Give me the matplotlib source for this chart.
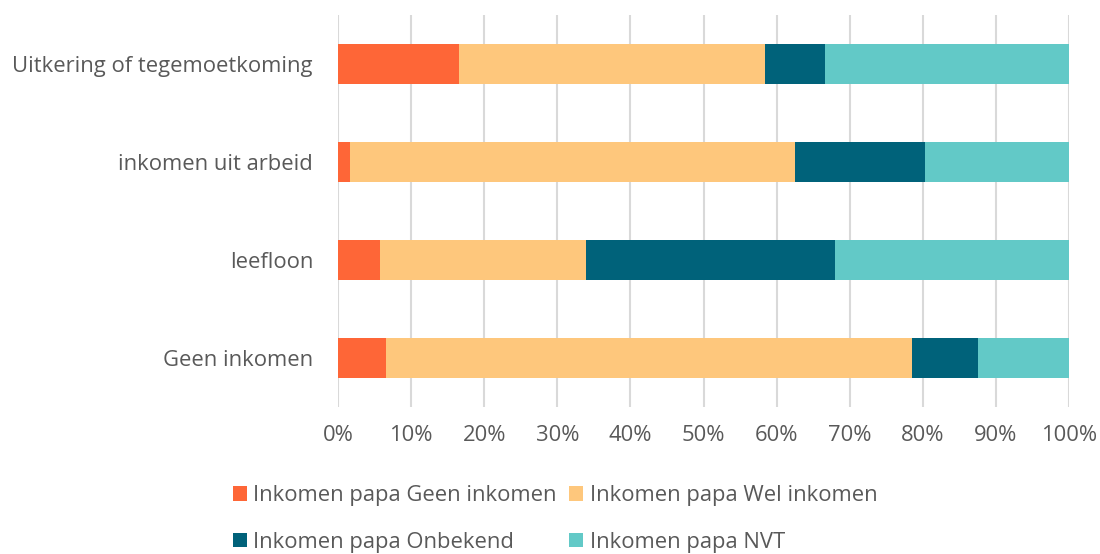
import matplotlib
matplotlib.use("Agg")
import matplotlib.pyplot as plt
from matplotlib.ticker import FuncFormatter

plt.rcParams['font.family'] = ['Open Sans', 'DejaVu Sans']

categories = ["Uitkering of tegemoetkoming", "inkomen uit arbeid", "leefloon", "Geen inkomen"]
series_names = ["Inkomen papa Geen inkomen", "Inkomen papa Wel inkomen",
                "Inkomen papa Onbekend", "Inkomen papa NVT"]
geen = [16.6, 1.6, 5.8, 6.6]
wel = [41.8, 60.9, 28.1, 71.9]
onbekend = [8.2, 17.8, 34.1, 9.1]
nvt = [33.4, 19.7, 32.0, 12.4]
colors = ["#FE6637", "#FEC77C", "#00627A", "#62C9C7"]

FS = 15.8
fig = plt.figure(figsize=(11, 5.54), dpi=100)
ax = fig.add_axes([338/1100, 1-407/554, (1069-338)/1100, (407-15)/554])

ypos = list(range(len(categories)))
left = [0.0]*len(categories)
for name, vals, col in zip(series_names, [geen, wel, onbekend, nvt], colors):
    ax.barh(ypos, vals, left=left, height=0.4, color=col, label=name, zorder=3)
    left = [l+v for l, v in zip(left, vals)]

ax.set_xlim(0, 100)
ax.set_ylim(3.5, -0.5)
ax.set_xticks(range(0, 101, 10))
ax.xaxis.set_major_formatter(FuncFormatter(lambda v, p: f"{int(v)}%"))
ax.set_yticks(ypos)
ax.set_yticklabels(categories)
ax.grid(axis='x', color='#D9D9D9', linewidth=1.5, zorder=0)
for s in ax.spines.values():
    s.set_visible(False)
ax.tick_params(axis='both', length=0, labelsize=FS, colors='#595959')
ax.tick_params(axis='y', pad=18)
ax.tick_params(axis='x', pad=13)

handles, labels = ax.get_legend_handles_labels()
order = [0, 2, 1, 3]
leg = fig.legend([handles[i] for i in order], [labels[i] for i in order], ncol=2,
                 loc='center', bbox_to_anchor=(555/1100, 1-519/554),
                 frameon=False, fontsize=FS, handlelength=0.65, handleheight=0.65,
                 handletextpad=0.3, columnspacing=0.55, labelspacing=1.15, labelcolor='#595959')

fig.savefig("out.png", dpi=100)
